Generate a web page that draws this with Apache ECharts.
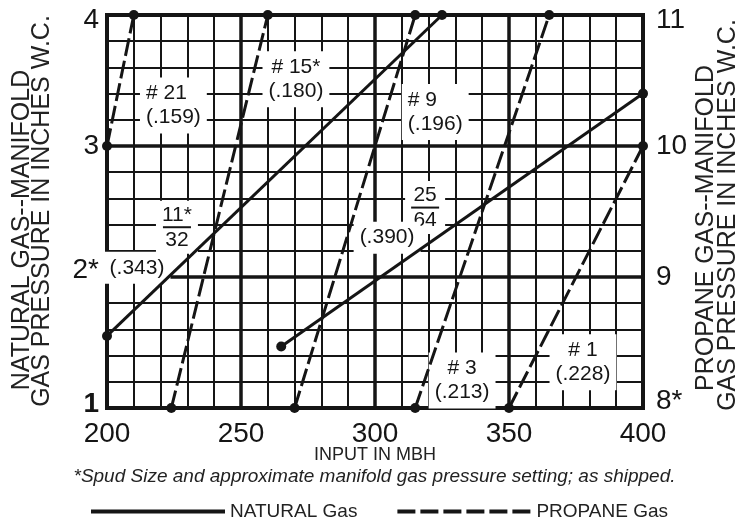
<!DOCTYPE html>
<html>
<head>
<meta charset="utf-8">
<script src="https://cdn.jsdelivr.net/npm/echarts@6/dist/echarts.min.js"></script>
<style>
  html, body { margin: 0; padding: 0; background: #fff; }
  #chart { width: 749px; height: 521px; }
</style>
</head>
<body>
<div id="chart"></div>
<script>
var SANS = '"Liberation Sans", Arial, Helvetica, sans-serif'
var INK = '#151515'

// natural gas spud lines (left scale, in. W.C.)
var natX = [[200, 325], [265, 400]]
var natY = [[1.55, 4.0], [1.47, 3.4]]

// propane spud lines (right scale, in. W.C.)
var lpX = [[200, 210], [224, 260], [270, 315], [315, 365], [350, 400]]
var lpY = [[10, 11], [8, 11], [8, 11], [8, 11], [8, 10]]

// spud notes written on the grid (left scale coords)
var noteText = ['# 21\n(.159)', '# 15*\n(.180)', '# 9\n(.196)', '{n|25}\n{bar| }\n{n|64}', '(.390)',
  '{n|11*}\n{bar| }\n{n|32}', '(.343)', '# 3\n(.213)', '# 1\n(.228)']
var noteX = [212.3, 270.5, 310, 318.7, 304.5, 226.1, 211.2, 332.5, 377.6]
var noteY = [3.31, 3.51, 3.26, 2.53, 2.30, 2.38, 2.07, 1.21, 1.35]
var noteAlign = ['left', 'center', 'left', 'center', 'center', 'center', 'center', 'center', 'center']

// axis tick text
var leftTicks = { 1: '{b|1}', 2: '{up|2*}', 3: '{t|3}', 4: '{dn|4}' }
var rightTicks = { 8: '{up|8*}', 9: '{t|9}', 10: '{t|10}', 11: '{dn|11}' }

var tickRich = {
  t: { fontFamily: SANS, fontSize: 28, color: INK },
  b: { fontFamily: SANS, fontSize: 28, fontWeight: 'bold', color: INK, padding: [0, 0, 8, 0] },
  up: { fontFamily: SANS, fontSize: 28, color: INK, padding: [0, 0, 14, 0] },
  dn: { fontFamily: SANS, fontSize: 28, color: INK, padding: [10, 0, 0, 0] }
}

var chart = echarts.init(document.getElementById('chart'))

var series = []
natX.forEach(function (xs, i) {
  series.push({
    name: 'NATURAL Gas',
    type: 'line',
    yAxisIndex: 0,
    z: 5,
    data: xs.map(function (x, j) { return [x, natY[i][j]] }),
    symbol: 'circle',
    symbolSize: 10,
    itemStyle: { color: INK },
    lineStyle: { color: INK, width: 3, type: 'solid' },
    silent: true
  })
})
lpX.forEach(function (xs, i) {
  series.push({
    name: 'PROPANE Gas',
    type: 'line',
    yAxisIndex: 1,
    z: 5,
    data: xs.map(function (x, j) { return [x, lpY[i][j]] }),
    symbol: 'circle',
    symbolSize: 10,
    itemStyle: { color: INK },
    lineStyle: { color: INK, width: 3, type: [18, 5] },
    silent: true
  })
})

// white boxed notes, under the lines but over the grid
series.push({
  type: 'scatter',
  yAxisIndex: 0,
  z: 2,
  silent: true,
  symbolSize: 0,
  itemStyle: { opacity: 1 },
  data: noteText.map(function (t, i) {
    return {
      value: [noteX[i], noteY[i]],
      label: { align: noteAlign[i] }
    }
  }),
  label: {
    show: true,
    position: 'inside',
    opacity: 1,
    formatter: function (p) { return noteText[p.dataIndex] },
    fontFamily: SANS,
    fontSize: 21,
    lineHeight: 24,
    color: INK,
    backgroundColor: '#fff',
    padding: [4, 6],
    rich: {
      n: { fontFamily: SANS, fontSize: 21, lineHeight: 20, color: INK },
      bar: { width: 28, height: 2, lineHeight: 5, backgroundColor: INK, fontSize: 2 }
    }
  }
})

var option = {
  backgroundColor: '#fff',
  animation: false,
  title: {
    text: '*Spud Size and approximate manifold gas pressure setting; as shipped.',
    left: 'center',
    top: 462,
    textStyle: { fontFamily: SANS, fontSize: 19, fontStyle: 'italic', fontWeight: 'normal', color: '#222' }
  },
  legend: {
    data: ['NATURAL Gas', 'PROPANE Gas'],
    left: 84,
    top: 497,
    itemWidth: 134,
    itemHeight: 3,
    itemGap: 38,
    selectedMode: false,
    lineStyle: { width: 4 },
    itemStyle: { opacity: 0 },
    textStyle: { fontFamily: SANS, fontSize: 19, color: '#222' }
  },
  grid: {
    left: 107,
    top: 15,
    width: 536,
    height: 393,
    show: true,
    borderColor: INK,
    borderWidth: 4,
    backgroundColor: 'transparent'
  },
  xAxis: [
    {
      type: 'value',
      min: 200,
      max: 400,
      interval: 50,
      position: 'bottom',
      axisLine: { show: false },
      axisTick: { show: false },
      axisLabel: { fontFamily: SANS, fontSize: 28, color: INK, margin: 12 },
      splitLine: { lineStyle: { color: INK, width: 3.5 } },
      name: 'INPUT IN MBH',
      nameLocation: 'middle',
      nameGap: 38,
      nameMoveOverlap: false,
      nameTextStyle: { fontFamily: SANS, fontSize: 18, color: '#222' }
    },
    {
      type: 'value',
      min: 200,
      max: 400,
      interval: 10,
      position: 'top',
      axisLine: { show: false },
      axisTick: { show: false },
      axisLabel: { show: false },
      splitLine: { lineStyle: { color: INK, width: 2 } }
    }
  ],
  yAxis: [
    {
      type: 'value',
      min: 1,
      max: 4,
      interval: 1,
      position: 'left',
      axisLine: { show: false },
      axisTick: { show: false },
      axisLabel: {
        margin: 8,
        formatter: function (v) { return leftTicks[v] || '' },
        rich: tickRich
      },
      splitLine: { lineStyle: { color: INK, width: 3.5 } }
    },
    {
      type: 'value',
      min: 8,
      max: 11,
      interval: 1,
      position: 'right',
      axisLine: { show: false },
      axisTick: { show: false },
      axisLabel: {
        margin: 13,
        formatter: function (v) { return rightTicks[v] || '' },
        rich: tickRich
      },
      splitLine: { show: false }
    },
    {
      type: 'value',
      min: 1,
      max: 4,
      interval: 0.2,
      position: 'left',
      axisLine: { show: false },
      axisTick: { show: false },
      axisLabel: { show: false },
      splitLine: { lineStyle: { color: INK, width: 2 } }
    }
  ],
  graphic: [
    { type: 'text', x: 22, y: 230, rotation: Math.PI / 2, silent: true,
      style: { text: 'NATURAL GAS--MANIFOLD', font: '25px ' + SANS, fill: '#222', align: 'center', verticalAlign: 'middle' } },
    { type: 'text', x: 42, y: 211, rotation: Math.PI / 2, silent: true,
      style: { text: 'GAS PRESSURE IN INCHES W.C.', font: '25px ' + SANS, fill: '#222', align: 'center', verticalAlign: 'middle' } },
    { type: 'text', x: 706, y: 228, rotation: Math.PI / 2, silent: true,
      style: { text: 'PROPANE GAS--MANIFOLD', font: '25px ' + SANS, fill: '#222', align: 'center', verticalAlign: 'middle' } },
    { type: 'text', x: 728, y: 215, rotation: Math.PI / 2, silent: true,
      style: { text: 'GAS PRESSURE IN INCHES W.C.', font: '25px ' + SANS, fill: '#222', align: 'center', verticalAlign: 'middle' } }
  ],
  series: series
}

chart.setOption(option)
</script>
</body>
</html>
